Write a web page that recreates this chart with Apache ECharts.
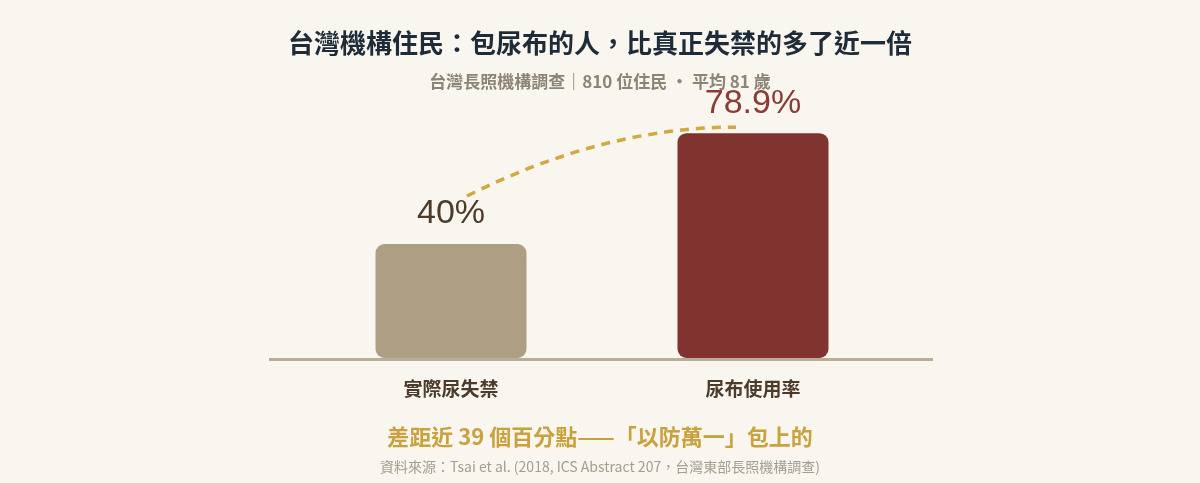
<!DOCTYPE html>
<html>
<head>
<meta charset="utf-8">
<title>台灣機構住民：包尿布的人</title>
<script src="https://cdn.jsdelivr.net/npm/echarts@6/dist/echarts.min.js"></script>
<style>
  html, body { margin: 0; padding: 0; background: #f9f5ef; }
  #main { width: 1200px; height: 483px; }
</style>
</head>
<body>
<div id="main"></div>
<script>
// 資料
const categories = ['實際尿失禁', '尿布使用率'];
const values = [40, 78.9];
const barColors = ['#ae9f84', '#80332f'];
const labelColors = ['#4b3b2a', '#8b3a36'];

const titleText = '台灣機構住民：包尿布的人，比真正失禁的多了近一倍';
const subText = '台灣長照機構調查｜810 位住民 · 平均 81 歲';
const noteText = '差距近 39 個百分點——「以防萬一」包上的';
const sourceText = '資料來源：Tsai et al. (2018, ICS Abstract 207，台灣東部長照機構調查)';

const FONT = "'Liberation Sans', 'Noto Sans CJK TC', sans-serif";
const CJK = "'Noto Sans CJK TC', sans-serif";

const gridLeft = 300, gridWidth = 604, gridTop = 73, gridBottom = 125;

let chart = echarts.init(document.getElementById('main'));

let option = {
    backgroundColor: '#f9f5ef',
    animation: false,
    grid: { left: gridLeft, width: gridWidth, top: gridTop, bottom: gridBottom },
    xAxis: {
        type: 'category',
        data: categories,
        axisLine: { show: false },
        axisTick: { show: false },
        axisLabel: {
            margin: 21,
            fontFamily: CJK,
            fontSize: 19,
            fontWeight: 'bold',
            color: '#4b3b2a'
        }
    },
    yAxis: {
        type: 'value',
        min: 0,
        max: 100,
        show: false
    },
    series: [{
        type: 'bar',
        barWidth: 151,
        data: values.map(function (v, i) {
            return {
                value: v,
                itemStyle: { color: barColors[i], borderRadius: 9 },
                label: { color: labelColors[i] }
            };
        }),
        label: {
            show: true,
            position: 'top',
            distance: 13,
            fontFamily: FONT,
            fontSize: 34,
            formatter: function (p) { return p.value + '%'; }
        },
        z: 3
    }],
    graphic: [
        {
            id: 'title', type: 'text', left: 'center', top: 30,
            style: { text: titleText, fontFamily: CJK, fontSize: 26, fontWeight: 'bold', fill: '#1e2b38' }
        },
        {
            id: 'sub', type: 'text', left: 'center', top: 73,
            style: { text: subText, fontFamily: CJK, fontSize: 17, fontWeight: 'bold', fill: '#8c8474' }
        },
        {
            id: 'note', type: 'text', left: 'center', top: 426,
            style: { text: noteText, fontFamily: CJK, fontSize: 22, fontWeight: 'bold', fill: '#c9a23e' }
        },
        {
            id: 'source', type: 'text', left: 'center', top: 460,
            style: { text: sourceText, fontFamily: CJK, fontSize: 14, fill: '#a59d90' }
        }
    ]
};
chart.setOption(option);

// 基線與虛線弧，位置取自座標軸
let p1 = chart.convertToPixel({ seriesIndex: 0 }, [0, values[0]]);
let p2 = chart.convertToPixel({ seriesIndex: 0 }, [1, values[1]]);
let base = chart.convertToPixel({ seriesIndex: 0 }, [0, 0]);

let start = [p1[0] + 16, p1[1] - 48];
let end = [p2[0] - 17, p2[1] - 6];
let ctrl = [start[0] + (end[0] - start[0]) * 0.51, end[1]];

chart.setOption({
    graphic: [
        {
            id: 'baseline', type: 'line', z: 1,
            shape: { x1: gridLeft - 31, y1: base[1] + 1.5, x2: gridLeft + gridWidth + 29, y2: base[1] + 1.5 },
            style: { stroke: '#b8ad95', lineWidth: 3 }
        },
        {
            id: 'arc', type: 'bezierCurve', z: 2,
            shape: { x1: start[0], y1: start[1], cpx1: ctrl[0], cpy1: ctrl[1], x2: end[0], y2: end[1] },
            style: { stroke: '#d2a843', lineWidth: 3.5, lineDash: [9, 7], fill: null }
        }
    ]
});
</script>
</body>
</html>
